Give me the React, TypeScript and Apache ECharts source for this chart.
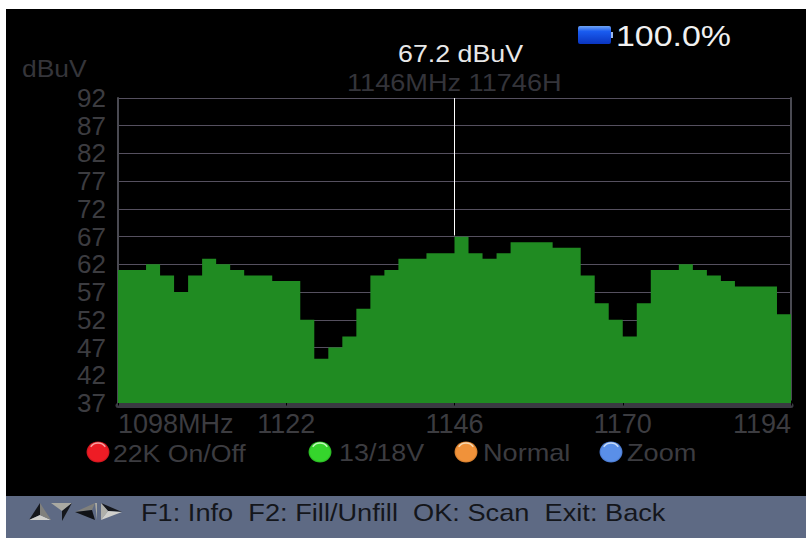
import React, { useEffect, useRef } from "react";
import * as echarts from "echarts";

const freqLabels = ["1098","1100","1102","1104","1106","1108","1110","1112","1114","1116","1118","1120","1122","1124","1126","1128","1130","1132","1134","1136","1138","1140","1142","1144","1146","1148","1150","1152","1154","1156","1158","1160","1162","1164","1166","1168","1170","1172","1174","1176","1178","1180","1182","1184","1186","1188","1190","1192","1194"];
// level at each frequency step; the last point closes the final step
const levels = [61,61,62,60,57,60,63,62,61,60,60,59,59,52,45,47,49,54,60,61,63,63,64,64,67,64,63,64,66,66,66,65,65,60,55,52,49,55,61,61,62,61,60,59,58,58,58,53,53];
const levelTicks = [37,42,47,52,57,62,67,72,77,82,87,92];
const markerFreq = "1146";
const markerLevel = 67.2;
const softKeys = [
  { label: "22K On/Off", cx: 98, tx: 113, sx: 1.11, c: "#ee1c25", d: "#8a0a10", h: "#f8a0a0" },
  { label: "13/18V", cx: 320, tx: 339, sx: 1.12, c: "#35d52c", d: "#127a10", h: "#c0f8b8" },
  { label: "Normal", cx: 466, tx: 483, sx: 1.13, c: "#f0923a", d: "#9a5412", h: "#f8d8b0" },
  { label: "Zoom", cx: 611, tx: 627, sx: 1.13, c: "#5a8fe8", d: "#2a4f9c", h: "#c8dcf8" },
];

const FONT = "'Liberation Sans', Arial, sans-serif";
const GREY = "#3c3c40";

function label(text: string, x: number, y: number, fontSize: number, fill: string, scaleX = 1.15) {
  return {
    type: "text", x, y, scaleX, z: 10,
    style: { text, fontSize, fontFamily: FONT, fill, textVerticalAlign: "middle", verticalAlign: "middle" },
  };
}
function tri(points: number[][], fill: string) {
  return { type: "polygon", z: 10, shape: { points }, style: { fill } };
}

export default function App() {
  const ref = useRef<HTMLDivElement>(null);
  useEffect(() => {
    document.body.style.margin = "0";
    document.body.style.background = "#fff";
    const chart = echarts.init(ref.current!, null, { renderer: "svg" });
    chart.setOption({
      animation: false,
      backgroundColor: "transparent",
      textStyle: { fontFamily: FONT },
      grid: { left: 118, right: 15, top: 98, bottom: 135, containLabel: false },
      xAxis: {
        type: "category",
        data: freqLabels,
        boundaryGap: false,
        offset: 2.5,
        axisLine: { onZero: false, lineStyle: { color: "#3a3a42", width: 5 } },
        axisTick: { show: true, interval: 11, length: 5, inside: true, lineStyle: { color: "#000", width: 1 } },
        axisLabel: {
          interval: 11,
          color: GREY,
          fontSize: 27,
          margin: 5,
          alignMinLabel: "left",
          alignMaxLabel: "right",
          formatter: (v: string) => (v === freqLabels[0] ? v + "MHz" : v),
        },
        splitLine: { show: false },
      },
      yAxis: [
        {
          type: "value",
          min: levelTicks[0],
          max: levelTicks[levelTicks.length - 1],
          axisLine: { show: true, onZero: false, lineStyle: { color: "#4a4a52", width: 2 } },
          axisTick: { show: false, customValues: levelTicks },
          axisLabel: { customValues: levelTicks, color: GREY, fontSize: 26, margin: 12, showMinLabel: true, showMaxLabel: true },
          splitLine: { show: true, customValues: levelTicks, lineStyle: { color: "#55505f", width: 1 } },
        },
        {
          type: "value",
          position: "right",
          min: levelTicks[0],
          max: levelTicks[levelTicks.length - 1],
          axisLine: { show: true, onZero: false, lineStyle: { color: "#4a4a52", width: 2 } },
          axisTick: { show: false },
          axisLabel: { show: false },
          splitLine: { show: false },
        },
      ],
      series: [
        {
          type: "line",
          step: "end",
          data: levels,
          symbol: "none",
          lineStyle: { width: 0 },
          areaStyle: { color: "#208b22", opacity: 1 },
          markLine: {
            silent: true,
            symbol: "none",
            label: { show: false },
            lineStyle: { color: "#ffffff", width: 1, type: "solid" },
            data: [[{ coord: [markerFreq, 92] }, { coord: [markerFreq, markerLevel] }]],
          },
        },
      ],
      graphic: [
        { type: "rect", z: -1, shape: { x: 6, y: 9, width: 800, height: 487 }, style: { fill: "#000" } },
        { type: "rect", z: 1, shape: { x: 6, y: 496, width: 800, height: 42 }, style: { fill: "#5e6a84" } },
        label("67.2 dBuV", 398, 54, 23, "#e8e8e8", 1.165),
        label("1146MHz 11746H", 347, 83, 23, "#34343a", 1.18),
        label("dBuV", 22, 69, 23, "#35353a", 1.15),
        label("100.0%", 616, 36, 29, "#f0f0f0", 1.17),
        {
          type: "rect", z: 10,
          shape: { x: 578, y: 26, width: 33, height: 18, r: 2 },
          style: { fill: new echarts.graphic.LinearGradient(0, 0, 0, 1, [
            { offset: 0, color: "#6fa4f5" }, { offset: 0.3, color: "#1a5cf0" }, { offset: 1, color: "#0a35c0" },
          ]) },
        },
        { type: "rect", z: 10, shape: { x: 611, y: 32, width: 2, height: 6 }, style: { fill: "#9ab8ee" } },
        ...softKeys.flatMap((k) => [
          {
            type: "ellipse", z: 10,
            shape: { cx: k.cx, cy: 452, rx: 11.5, ry: 10.5 },
            style: { fill: new echarts.graphic.RadialGradient(0.5, 0.5, 0.6, [
              { offset: 0, color: k.c }, { offset: 0.7, color: k.c }, { offset: 1, color: k.d },
            ]) },
          },
          {
            type: "arc", z: 11,
            shape: { cx: k.cx, cy: 452, r: 9, startAngle: Math.PI * 1.2, endAngle: Math.PI * 1.8 },
            style: { stroke: k.h, lineWidth: 1.5, fill: "none" },
          },
          label(k.label, k.tx, 453, 24, GREY, k.sx),
        ]),
        tri([[29, 520], [40, 503], [40, 515]], "#15171c"),
        tri([[29, 520], [40, 515], [51, 520]], "#d0d0cc"),
        tri([[40, 503], [40, 515], [51, 520]], "#80807c"),
        tri([[51, 503], [72, 503], [62, 511]], "#a9a9a2"),
        tri([[62, 511], [72, 503], [62, 521]], "#15171c"),
        tri([[75, 512], [95, 503], [92, 510]], "#80807c"),
        tri([[75, 512], [92, 510], [95, 520]], "#101216"),
        tri([[95, 503], [97, 503], [97, 520]], "#a9a9a2"),
        tri([[101, 503], [122, 512], [108, 511]], "#15171c"),
        tri([[101, 503], [108, 511], [101, 520]], "#b0b0aa"),
        tri([[101, 520], [108, 511], [122, 512]], "#d0d0cc"),
        label("F1: Info  F2: Fill/Unfill  OK: Scan  Exit: Back", 141, 513, 24, "#14161b", 1.134),
      ],
    });
    return () => chart.dispose();
  }, []);
  return <div ref={ref} style={{ width: 806, height: 538, overflow: "hidden" }} />;
}
